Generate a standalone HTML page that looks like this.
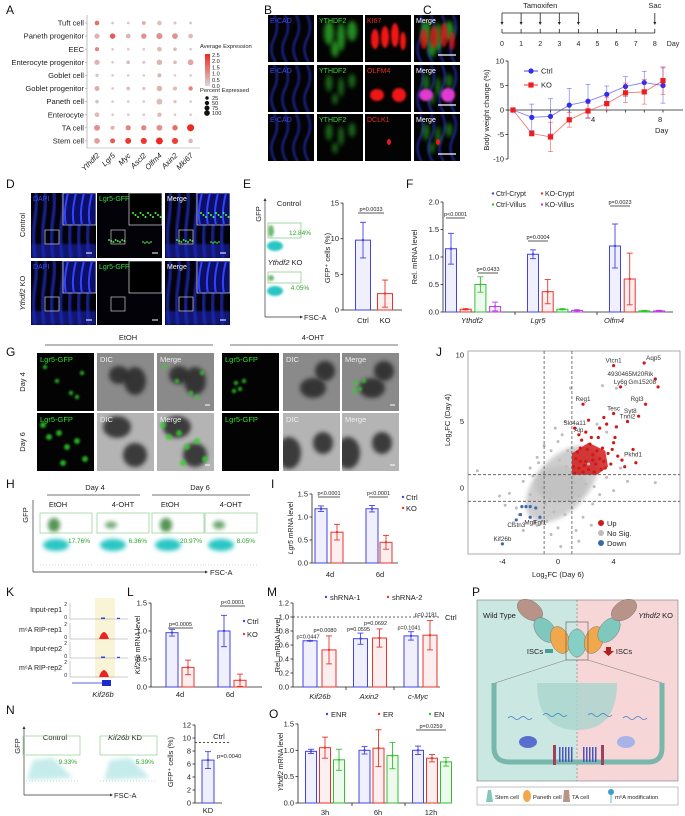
<!DOCTYPE html>
<html><head><meta charset="utf-8">
<style>
body{margin:0;background:#fff}
svg{display:block;font-family:"Liberation Sans",Arial,sans-serif}
</style></head>
<body>
<svg id="fig" width="685" height="816" viewBox="0 0 685 816" xmlns="http://www.w3.org/2000/svg">
<defs>
<filter id="bl" x="-50%" y="-50%" width="200%" height="200%"><feGaussianBlur stdDeviation="1"/></filter>
<filter id="bl2" x="-50%" y="-50%" width="200%" height="200%"><feGaussianBlur stdDeviation="2"/></filter>
<filter id="bl4" x="-50%" y="-50%" width="200%" height="200%"><feGaussianBlur stdDeviation="4"/></filter>
<linearGradient id="cbar" x1="0" y1="1" x2="0" y2="0"><stop offset="0" stop-color="#d8d8d8"/><stop offset="1" stop-color="#ee2a1e"/></linearGradient>
</defs>
<g font-size="12" fill="#111">
<text x="6" y="14">A</text><text x="264" y="14">B</text><text x="423" y="14">C</text>
<text x="6" y="188">D</text><text x="243" y="188">E</text><text x="406" y="188">F</text>
<text x="6" y="356">G</text><text x="436" y="356">J</text>
<text x="6" y="488">H</text><text x="271" y="488">I</text>
<text x="6" y="596">K</text><text x="127" y="596">L</text><text x="267" y="596">M</text><text x="472" y="596">P</text>
<text x="6" y="714">N</text><text x="269" y="718">O</text>
</g>
</svg>
<script>
const NS='http://www.w3.org/2000/svg';
const fig=document.getElementById('fig');
function mk(tag,attrs,parent){const e=document.createElementNS(NS,tag);for(const k in attrs)e.setAttribute(k,attrs[k]);(parent||fig).appendChild(e);return e;}
function tx(x,y,s,attrs,parent){const e=mk('text',Object.assign({x:x,y:y,'font-size':7,fill:'#222'},attrs||{}),parent);e.textContent=s;return e;}

/* ================= DATA ================= */
const aCells=['Tuft cell','Paneth progenitor','EEC','Enterocyte progenitor','Goblet cell','Goblet progenitor','Paneth cell','Enterocyte','TA cell','Stem cell'];
const aGenes=['Ythdf2','Lgr5','Myc','Ascl2','Olfm4','Axin2','Mki67'];
const aExpr=[[1.5,0.3,0.3,0.7,0.3,0.3,0.3],[0.5,1.8,0.5,1.0,1.0,1.0,0.4],[1.2,0.2,0.2,0.2,0.4,0.4,0.2],[0.5,0.2,0.4,0.2,0.5,0.4,0.7],[0.3,0.2,0.2,0.2,0.5,0.2,0.2],[0.6,0.2,0.4,0.3,0.5,0.4,1.2],[0.3,0.2,0.2,0.2,0.4,0.3,0.2],[0.4,0.2,0.2,0.2,0.4,0.2,0.2],[1.0,0.5,1.2,1.2,1.0,1.5,2.5],[0.8,1.8,2.3,2.3,2.5,2.2,0.4]];
const aPct=[[30,5,5,15,30,8,5],[40,45,30,45,60,50,30],[20,5,5,5,30,15,5],[40,5,15,10,45,15,50],[10,5,5,5,20,5,5],[35,5,15,10,45,20,25],[15,5,5,5,55,10,5],[30,5,5,5,25,5,5],[55,20,40,40,55,45,85],[50,35,55,60,80,60,30]];

const cDays=[0,1,2,3,4,5,6,7,8];
const cCtrl=[0,-1.5,-1.3,1.0,1.8,3.2,4.8,5.6,5.0];
const cCtrlErr=[0,2.7,3.6,3.4,3.4,1.7,2.0,2.3,3.6];
const cKO=[0,-4.8,-5.5,-2.0,-0.2,1.3,3.5,3.7,6.0];
const cKOErr=[0,0.5,3.0,1.5,1.5,1.3,2.0,2.5,2.8];

const eCats=['Ctrl','KO'];
const eVals=[9.8,2.3];
const eErr=[2.5,1.9];

const fGroups=['Ythdf2','Lgr5','Olfm4'];
const fSeries=['Ctrl-Crypt','KO-Crypt','Ctrl-Villus','KO-Villus'];
const fVals=[[1.15,1.05,1.2],[0.05,0.37,0.6],[0.5,0.05,0.02],[0.1,0.03,0.02]];
const fErr=[[0.28,0.08,0.4],[0.01,0.22,0.47],[0.14,0.01,0.01],[0.08,0.01,0.01]];

const iGroups=['4d','6d'];
const iCtrl=[1.18,1.18];const iCtrlErr=[0.06,0.07];
const iKO=[0.67,0.45];const iKOErr=[0.17,0.15];

const jGrayX=[-5.8,-3.5,-3,-2.5,-2,-2,-1.5,-1.2,-1,-0.8,-0.5,-0.3,0,0,0.3,0.5,0.7,0.9,1,1.2,1.5,2,2.5,3,3.5,4,4.5,5,7,-1.5,-0.5,0.2,1.8,2.4,1.5,-2.5,3.2,4.2,0.5,-0.2,-3.8,-4.2,2.8,3.5,1,-1,-2.8,2.2,0.6,-0.6,-1.8,-3.2,1.3,0.1,-0.9,2.6,-1.4,0.8];
const jGrayY=[1.3,-0.4,-1.5,0.5,-0.5,1.5,2.3,0,3.2,-2.5,2.8,-1.8,3.5,-3,4,-2,2.8,7.5,-1.5,0.4,-0.6,0.3,-1.2,-0.5,0.8,-0.2,1.5,0.5,0.4,-2.8,-3.5,-4.4,-2.2,-2.8,-4,-3.2,7.7,7.5,5,4.5,-1.3,-0.6,4.8,4.2,3,1,-2,1.8,1.6,-0.8,0.9,-2.6,-3.2,2.1,-1.2,0.1,1.9,-0.9];
const jUpX=[1.2,1.5,1.8,2,2.2,2.5,2.7,3,3.2,3.4,1.3,1.6,2.3,2.9,3.6,4,4.3,1.1,1.4,2.1,2.6,3.3,3.8,2.4,2,3,3.5,4.2,4.1,1.9,2.8,3.9,4.6,4.8,5.6,5.4,3.3,2.2,1.8,1.2,4,5,5.8,6.3,7.2,7,6.2,4,4.5,1.6,2.5,1.7,3.1,1.5];
const jUpY=[1.1,1.5,1.2,2,1.4,2.5,1.8,2.2,3,1.5,2.2,3,3.3,3.8,2.6,3.4,2.4,1.6,2.7,2.9,1.2,2,1.8,3.8,4.2,4.5,4.8,4.6,3.8,1.7,2.8,2.9,2.1,1.6,1.9,2.9,5.3,5.1,6.3,4.5,5.6,5,5.4,6.3,7.6,8.2,9.4,9.2,7.6,2,2.1,3.6,1.4,4];
const jDownX=[-4,-3,-2.6,-2.3,-2,-1.6,-2,-2.7,-1.3];
const jDownY=[-4.2,-2.4,-1.4,-1.4,-1.4,-1.5,-2.2,-2,-2.2];
const jLabNames=['Vtcn1','Aqp5','4930465M20Rik','Gm15208','Ly6g','Rgl3','Syt8','Tesc','Reg1','Slc4a11','Tnni2','Alp','Pkhd1','Kif26b','Clstn3','Mgll','Fgf1'];
const jLabX=[4,6.2,7,7.2,4.5,6.3,5.8,4,1.8,1.2,5,1.5,5.4,-4,-3,-2,-1.3];
const jLabY=[9.2,9.4,8.2,7.6,7.6,6.3,5.4,5.6,6.3,4.5,5,4,2.9,-4.2,-2.4,-2.2,-2.2];

const lGroups=['4d','6d'];
const lCtrl=[0.97,1.0];const lCtrlErr=[0.06,0.28];
const lKO=[0.35,0.12];const lKOErr=[0.13,0.11];

const mGroups=['Kif26b','Axin2','c-Myc'];
const mSh1=[0.66,0.69,0.73];const mSh1Err=[0.005,0.08,0.06];
const mSh2=[0.53,0.70,0.74];const mSh2Err=[0.2,0.13,0.21];
const mPvals1=['p=0.0447','p=0.0595','p=0.1041'];
const mPvals2=['p=0.0080','p=0.0692','p=0.1181'];

const nVal=[6.6];const nErr=[1.3];const nCtrlLevel=9.3;

const oGroups=['3h','6h','12h'];
const oENR=[0.98,1.0,1.0];const oENRErr=[0.04,0.07,0.08];
const oER=[1.05,1.04,0.85];const oERErr=[0.2,0.35,0.07];
const oEN=[0.82,0.9,0.78];const oENErr=[0.2,0.25,0.08];

const BLUE='#4343e6',RED='#e8362e',GREEN='#32c232',PURP='#b83ee0';

/* ============ generic helpers ============ */
function yAxis(x,y0,k,ticks,fmt,fs){
  mk('line',{x1:x,y1:y0,x2:x,y2:y0-k*ticks[ticks.length-1],stroke:'#222','stroke-width':0.8});
  ticks.forEach(t=>{const y=y0-k*t;
    mk('line',{x1:x-2.5,y1:y,x2:x,y2:y,stroke:'#222','stroke-width':0.8});
    tx(x-4,y+2.5,fmt(t),{'text-anchor':'end','font-size':fs||7.5});});
}
function bar(cx,w,y0,k,v,err,color,name){
  const r=mk('rect',{x:cx-w/2,y:y0-k*v,width:w,height:k*v,fill:color,'fill-opacity':0.08,stroke:color,'stroke-width':1});
  
  
  const yt=y0-k*(v+err),yb=y0-k*Math.max(0,v-err);
  mk('line',{x1:cx,y1:yt,x2:cx,y2:yb,stroke:color,'stroke-width':0.9});
  mk('line',{x1:cx-3,y1:yt,x2:cx+3,y2:yt,stroke:color,'stroke-width':0.9});
  mk('line',{x1:cx-3,y1:yb,x2:cx+3,y2:yb,stroke:color,'stroke-width':0.9});
  mk('circle',{cx:cx,cy:y0-k*v,r:1.2,fill:color});
  return r;
}
function pline(x1,x2,y,label,fs){mk('line',{x1:x1,y1:y,x2:x2,y2:y,stroke:'#222','stroke-width':0.8});tx((x1+x2)/2,y-2,label,{'text-anchor':'middle','font-size':fs||5.5});}
function vtitle(x,y,s,fs){const t=tx(x,y,s,{'text-anchor':'middle','font-size':fs||7.5,transform:'rotate(-90 '+x+' '+y+')'});return t;}
function box(x,y,w,h,fill,name){const s=mk('svg',{x:x,y:y,width:w,height:h,overflow:'hidden'});mk('rect',{width:w,height:h,fill:fill},s);return s;}

/* ================= A: dot plot ================= */
(function(){
  const ax=87,top=15,bot=148;
  mk('line',{x1:ax,y1:top,x2:ax,y2:bot,stroke:'#999','stroke-width':0.6});
  mk('line',{x1:ax,y1:bot,x2:200,y2:bot,stroke:'#999','stroke-width':0.6});
  aCells.forEach((c,i)=>{const y=23+i*13.1;
    const t=tx(84,y+2.6,c,{'text-anchor':'end','font-size':7.6});
    
    mk('line',{x1:ax-2,y1:y,x2:ax,y2:y,stroke:'#999','stroke-width':0.6});
    aGenes.forEach((g,j)=>{const x=97+j*15.6;const e=aExpr[i][j]/2.5;
      const col='rgb('+Math.round(216+e*(238-216))+','+Math.round(216-e*(216-42))+','+Math.round(216-e*(216-30))+')';
      const d=mk('circle',{cx:x,cy:y,r:0.6+3.2*Math.sqrt(aPct[i][j]/100),fill:col});
      
      
    });
  });
  aGenes.forEach((g,j)=>{const x=97+j*15.6;
    const t=tx(x+3,156,g,{'text-anchor':'end','font-size':7.6,'font-style':'italic',transform:'rotate(-45 '+(x+3)+' 156)'});
    });
  tx(200,48,'Average Expression',{'font-size':5.8});
  const cb=mk('rect',{x:205,y:54,width:5,height:32,fill:'url(#cbar)'});
  
  ['2.5','2.0','1.5','1.0','0.5','0.0'].forEach((s,i)=>tx(212,57+i*6.2,s,{'font-size':5.6}));
  tx(200,92,'Percent Expressed',{'font-size':5.8});
  [25,50,75,100].forEach((p,i)=>{mk('circle',{cx:207,cy:98+i*5,r:0.6+3.2*Math.sqrt(p/100)*0.7,fill:'#111'});tx(212,100+i*5,String(p),{'font-size':5.6});});
})();

/* ================= B: images ================= */
(function(){
  const cols=[268,317,365,414],rows=[15,65,114],w=46,h=47;
  const labs=[['E-CAD','YTHDF2','KI67','Merge'],['E-CAD','YTHDF2','OLFM4','Merge'],['E-CAD','YTHDF2','DCLK1','Merge']];
  rows.forEach((y,r)=>cols.forEach((x,c)=>{
    const s=box(x,y,w,h,'#030303','b-image-r'+r+'c'+c);
    if(c===0||c===3){for(let k=0;k<4;k++)mk('path',{d:'M'+(6+k*11)+' 0 q6 12 0 24 t2 24',stroke:'#2a36e0','stroke-width':1.4,fill:'none',filter:'url(#bl)'},s);}
    if(c===1||c===3){[[12,18,5,12],[24,22,4,14],[35,16,5,10],[18,34,4,8]].forEach(b=>mk('ellipse',{cx:b[0],cy:b[1],rx:b[2]*(r===0?1:0.7),ry:b[3]*(r===0?1:0.7),fill:'#2fb82a',opacity:r===0?0.75:0.55,filter:'url(#bl2)'},s));}
    if(c===2||c===3){ if(r===0)[[10,24,4,10],[20,22,4,11],[30,20,4,12],[38,26,3,9]].forEach(b=>mk('ellipse',{cx:b[0],cy:b[1],rx:b[2],ry:b[3],fill:'#f01818',filter:'url(#bl)',opacity:c===3?0.7:1},s));
      else if(r===1)[[12,30,7,6],[34,30,7,7]].forEach(b=>mk('ellipse',{cx:b[0],cy:b[1],rx:b[2],ry:b[3],fill:c===3?'#e03ad0':'#f01818',filter:'url(#bl)'},s));
      else mk('ellipse',{cx:24,cy:28,rx:2,ry:3,fill:'#f01818'},s);}
    const cl=[ '#3c48f0','#3fd83f','#f02a20','#ffffff'][c];
    tx(2,8,labs[r][c],{'font-size':7,fill:cl},s);
    if(c===3)mk('line',{x1:24,y1:40,x2:42,y2:40,stroke:'#fff','stroke-width':1.2},s);
  }));
})();

/* ================= C: timeline + line chart ================= */
(function(){
  const x0=502,st=19.1,by=33;
  mk('line',{x1:x0,y1:by,x2:x0+8*st,y2:by,stroke:'#222','stroke-width':0.8});
  cDays.forEach(d=>{const x=x0+d*st;mk('line',{x1:x,y1:by-4,x2:x,y2:by,stroke:'#222','stroke-width':0.8});tx(x,46,String(d),{'text-anchor':'middle','font-size':7});});
  tx(673,46,'Day',{'font-size':7,'text-anchor':'middle'});
  mk('line',{x1:x0,y1:13,x2:x0+4*st,y2:13,stroke:'#222','stroke-width':0.8});
  for(let d=0;d<=4;d++){mk('line',{x1:x0+d*st,y1:13,x2:x0+d*st,y2:23,stroke:'#222','stroke-width':0.8});mk('path',{d:'M'+(x0+d*st-1.5)+' 22 l1.5 3 l1.5 -3z',fill:'#222'});}
  mk('line',{x1:x0+8*st,y1:13,x2:x0+8*st,y2:23,stroke:'#222','stroke-width':0.8});mk('path',{d:'M'+(x0+8*st-1.5)+' 22 l1.5 3 l1.5 -3z',fill:'#222'});
  tx(x0+2*st,8,'Tamoxifen',{'text-anchor':'middle','font-size':7.5});
  tx(x0+8*st,8,'Sac',{'text-anchor':'middle','font-size':7.5});
  const ax=508,y0=110,k=4.9,xs=d=>513+d*18.75,ys=v=>y0-v*k;
  yAxis(ax,y0,k,[0,5,10],t=>String(t));
  mk('line',{x1:ax,y1:y0,x2:ax,y2:ys(-10),stroke:'#222','stroke-width':0.8});
  [-5,-10].forEach(t=>{mk('line',{x1:ax-2.5,y1:ys(t),x2:ax,y2:ys(t),stroke:'#222','stroke-width':0.8});tx(ax-4,ys(t)+2.5,String(t),{'text-anchor':'end','font-size':7.5});});
  mk('line',{x1:ax,y1:y0,x2:683,y2:y0,stroke:'#222','stroke-width':0.8});
  cDays.forEach(d=>mk('line',{x1:xs(d),y1:y0,x2:xs(d),y2:y0+2.5,stroke:'#222','stroke-width':0.8}));
  tx(xs(4)+3,122,'4',{'font-size':7.5});tx(xs(8)-5,122,'8',{'font-size':7.5});tx(xs(8)-8,133,'Day',{'font-size':7.5});
  vtitle(489,110,'Body weight change (%)',7.5);
  function series(vals,errs,col,sym,nm){
    let d='';vals.forEach((v,i)=>{d+=(i?'L':'M')+xs(cDays[i])+' '+ys(v);});
    const p=mk('path',{d:d,stroke:col,'stroke-width':0.9,fill:'none','stroke-opacity':0.6});
    
    vals.forEach((v,i)=>{const x=xs(cDays[i]);
      mk('line',{x1:x,y1:ys(v+errs[i]),x2:x,y2:ys(v-errs[i]),stroke:col,'stroke-width':0.7,'stroke-opacity':0.6});
      mk('line',{x1:x-2.5,y1:ys(v+errs[i]),x2:x+2.5,y2:ys(v+errs[i]),stroke:col,'stroke-width':0.7,'stroke-opacity':0.6});
      mk('line',{x1:x-2.5,y1:ys(v-errs[i]),x2:x+2.5,y2:ys(v-errs[i]),stroke:col,'stroke-width':0.7,'stroke-opacity':0.6});
      const m=sym==='c'?mk('circle',{cx:x,cy:ys(v),r:2.6,fill:col}):mk('rect',{x:x-2.6,y:ys(v)-2.6,width:5.2,height:5.2,fill:col});
      
      
    });
  }
  series(cCtrl,cCtrlErr,'#2e2ef0','c','ctrl');
  series(cKO,cKOErr,'#ee1c1c','s','ko');
  mk('line',{x1:524,y1:71,x2:538,y2:71,stroke:'#2e2ef0','stroke-width':0.9});mk('circle',{cx:531,cy:71,r:2.6,fill:'#2e2ef0'});tx(541,73.5,'Ctrl',{'font-size':7.5});
  mk('line',{x1:524,y1:85,x2:538,y2:85,stroke:'#ee1c1c','stroke-width':0.9});mk('rect',{x:528.4,y:82.4,width:5.2,height:5.2,fill:'#ee1c1c'});tx(541,87.5,'KO',{'font-size':7.5});
})();

/* ================= D: images ================= */
(function(){
  const cols=[31,97,165],rows=[[193,258],[261,325]],w=65;
  const labs=['DAPI','Lgr5-GFP','Merge'];
  rows.forEach((rr,r)=>cols.forEach((x,c)=>{
    const h=rr[1]-rr[0];const s=box(x,rr[0],w,h,'#020208','d-image-r'+r+'c'+c);
    if(c!==1){for(let k=0;k<7;k++)mk('path',{d:'M'+(4+k*9)+' '+h+' q-3 -20 0 -40 t0 -30',stroke:'#2633d8','stroke-width':2.2,fill:'none',filter:'url(#bl)'},s);
      mk('rect',{x:0,y:h-14,width:w,height:14,fill:'#1d28b8',opacity:0.6,filter:'url(#bl)'},s);}
    if(r===0&&c>0){for(let k=0;k<8;k++)mk('circle',{cx:12+k*2.2,cy:h-18+(k%3),r:1,fill:'#3de03a'},s);for(let k=0;k<5;k++)mk('circle',{cx:46+k*2,cy:h-16+(k%2),r:0.9,fill:'#3de03a'},s);}
    mk('rect',{x:w-33,y:0,width:33,height:32,fill:c===1?'#000':'#0b0f66',stroke:'#ddd','stroke-width':0.7},s);
    if(c!==1)for(let k=0;k<4;k++)mk('path',{d:'M'+(w-30+k*8)+' 32 q-3 -12 2 -32',stroke:'#3342ff','stroke-width':2,fill:'none'},s);
    if(r===0&&c>0)for(let k=0;k<12;k++)mk('circle',{cx:w-29+k*2.5,cy:20+(k%3)*2,r:1,fill:'#43ff3c'},s);
    mk('rect',{x:14,y:h-28,width:14,height:14,fill:'none',stroke:'#ccc','stroke-width':0.7},s);
    mk('line',{x1:w-10,y1:h-5,x2:w-4,y2:h-5,stroke:'#fff','stroke-width':1},s);
    tx(2,8,labs[c],{'font-size':7,fill:['#3a48f5','#3fdd3f','#fff'][c]},s);
  }));
  vtitle(25,225,'Control',7.5);
  const t=tx(25,293,'',{'text-anchor':'middle','font-size':7.5,transform:'rotate(-90 25 293)'});
  t.innerHTML='<tspan font-style="italic">Ythdf2</tspan> KO';
})();

/* ================= E ================= */
(function(){
  mk('line',{x1:265,y1:200,x2:265,y2:317,stroke:'#333','stroke-width':0.7});
  mk('line',{x1:265,y1:317,x2:300,y2:317,stroke:'#333','stroke-width':0.7});
  mk('path',{d:'M263.5 201 l1.5 -3 l1.5 3z',fill:'#333'});mk('path',{d:'M300 315.5 l3 1.5 l-3 1.5z',fill:'#333'});
  tx(304,320,'FSC-A',{'font-size':7.5});vtitle(261,214,'GFP',7.5);
  [[206,223,238,'Control','12.84%'],[260,272,283,'','4.05%']].forEach((p,i)=>{
    tx(289,p[0],p[3],{'text-anchor':'middle','font-size':7.5});
    mk('ellipse',{cx:275,cy:p[2]+8,rx:8,ry:5,fill:'#2cc6c4',filter:'url(#bl)'});
    mk('ellipse',{cx:271,cy:p[1]+(i?6:8),rx:3,ry:i?3:6,fill:'#3a9a3a',opacity:0.7,filter:'url(#bl)'});
    const g=mk('rect',{x:268,y:p[1],width:33,height:p[2]-p[1],fill:'none',stroke:'#8fd08f','stroke-width':0.8});
    
    tx(300,p[2]-3+(i?10:0),p[4],{'font-size':6.5,fill:'#2aa52a','text-anchor':'middle'});
  });
  const t=tx(285,265,'',{'text-anchor':'middle','font-size':7.5});t.innerHTML='<tspan font-style="italic">Ythdf2</tspan> KO';
  const y0=310,k=7.13,ax=343;
  yAxis(ax,y0,k,[0,5,10,15],t=>String(t));
  mk('line',{x1:ax,y1:y0,x2:402,y2:y0,stroke:'#222','stroke-width':0.8});
  const cx=[363,385],cols=[BLUE,RED];
  eVals.forEach((v,i)=>{bar(cx[i],15,y0,k,v,eErr[i],cols[i],'e-bar-'+eCats[i].toLowerCase());tx(cx[i],323,eCats[i],{'text-anchor':'middle','font-size':7.5});});
  pline(358,384,213,'p=0.0033');
  vtitle(330,258,'GFP⁺ cells (%)',7.5);
})();

/* ================= F ================= */
(function(){
  const ax=443,y0=312,k=55;
  yAxis(ax,y0,k,[0,0.5,1,1.5,2],t=>t.toFixed(1));
  mk('line',{x1:ax,y1:y0,x2:673,y2:y0,stroke:'#222','stroke-width':0.8});
  [515,597].forEach(x=>mk('line',{x1:x,y1:y0,x2:x,y2:y0+3,stroke:'#222','stroke-width':0.8}));
  const cols=[BLUE,RED,GREEN,PURP];
  fGroups.forEach((g,gi)=>{
    fSeries.forEach((s,si)=>{bar(451+gi*82+si*14.7,11,y0,k,fVals[si][gi],fErr[si][gi],cols[si],'f-bar-'+g.toLowerCase()+'-'+s.toLowerCase());});
    tx(462+gi*76+ (gi===0?10:0),323,g,{'text-anchor':'middle','font-size':7.5,'font-style':'italic'});
  });
  pline(446,465,218,'p<0.0001');pline(478,498,273,'p=0.0433');pline(528,548,241,'p=0.0004');pline(610,630,206,'p=0.0023');
  fSeries.forEach((s,i)=>{const x=i%2?542:493,y=i<2?196:207;mk('circle',{cx:x,cy:y-2.5,r:1.2,fill:cols[i]});tx(x+3,y,s,{'font-size':7});});
  vtitle(417,257,'Rel. mRNA level',7.5);
})();

/* ================= G ================= */
(function(){
  tx(128,340,'EtOH',{'text-anchor':'middle','font-size':7.5});tx(313,340,'4-OHT',{'text-anchor':'middle','font-size':7.5});
  mk('line',{x1:45,y1:345,x2:213,y2:345,stroke:'#444','stroke-width':0.8});mk('line',{x1:230,y1:345,x2:398,y2:345,stroke:'#444','stroke-width':0.8});
  const cols=[37,97,157,222,283,342],rows=[353,413],w=57,h=58;
  const labs=['Lgr5-GFP','DIC','Merge'];
  rows.forEach((y,r)=>cols.forEach((x,c)=>{
    const kind=c%3,treated=c>=3;
    const bg=kind===0?'#030303':(r===0?'#8a8a8a':'#b4b4b4');
    const s=box(x,y,w,h,bg,'g-image-r'+r+'c'+c);
    if(kind>0){
      const blobs=r===0?(treated?[[30,35,13,10],[42,18,10,10]]:[[22,22,10,9],[38,28,11,14]]):(treated?[[6,40,12,16],[40,30,10,11]]:[[20,14,14,11],[38,42,12,12]]);
      blobs.forEach(b=>mk('ellipse',{cx:b[0],cy:b[1],rx:b[2],ry:b[3],fill:'#262626',opacity:0.85,filter:'url(#bl2)'},s));
    }
    if(kind!==1){const gp=r===0?(treated?[[14,30],[18,36],[22,28],[12,38]]:[[8,14],[20,28],[34,40],[40,44],[45,20]]):(treated?[]:[[6,12],[12,24],[22,20],[30,34],[40,28],[48,46],[26,50]]);
      gp.forEach(p=>mk('circle',{cx:p[0],cy:p[1],r:r===1?3:2.2,fill:'#2fd42a',opacity:0.8,filter:'url(#bl)'},s));}
    tx(3,9,labs[kind],{'font-size':7.5,fill:kind===0?'#2fe02a':'#eee'},s);
    if(kind===2)mk('line',{x1:w-9,y1:h-6,x2:w-4,y2:h-6,stroke:'#fff','stroke-width':1},s);
  }));
  vtitle(25,382,'Day 4',7.5);vtitle(25,442,'Day 6',7.5);
})();

/* ================= H ================= */
(function(){
  tx(95,490,'Day 4',{'text-anchor':'middle','font-size':7.5});tx(200,490,'Day 6',{'text-anchor':'middle','font-size':7.5});
  mk('line',{x1:47,y1:495,x2:140,y2:495,stroke:'#444','stroke-width':0.8});mk('line',{x1:152,y1:495,x2:250,y2:495,stroke:'#444','stroke-width':0.8});
  const xs=[40,97,152,205],labs=['EtOH','4-OHT','EtOH','4-OHT'],pct=['17.76%','6.36%','20.97%','8.05%'],dens=[1,0.5,1,0.6];
  xs.forEach((x,i)=>{
    tx(x+(i%2?26:18),507,labs[i],{'text-anchor':'middle','font-size':7.5});
    mk('ellipse',{cx:x+16,cy:545,rx:13,ry:6,fill:'#2cc6c4',filter:'url(#bl2)'});
    mk('ellipse',{cx:x+14,cy:525,rx:6,ry:7*dens[i],fill:'#2a7a2a',opacity:0.5+0.3*dens[i],filter:'url(#bl2)'});
    const g=mk('rect',{x:x,y:513,width:52,height:20,fill:'none',stroke:'#9fd49f','stroke-width':0.8});
    
    tx(x+50,543,pct[i],{'text-anchor':'end','font-size':6.5,fill:'#2aa52a'});
    mk('line',{x1:x,y1:565,x2:x+52,y2:565,stroke:'#aaa','stroke-width':0.6,'stroke-dasharray':'1 2'});
  });
  mk('line',{x1:33,y1:500,x2:33,y2:572,stroke:'#333','stroke-width':0.7});
  mk('line',{x1:33,y1:572,x2:205,y2:572,stroke:'#333','stroke-width':0.7});
  mk('path',{d:'M205 570.5 l3 1.5 l-3 1.5z',fill:'#333'});
  tx(210,575,'FSC-A',{'font-size':7.5});vtitle(28,515,'GFP',7.5);
})();

/* ================= I ================= */
(function(){
  const ax=312,y0=563,k=46;
  yAxis(ax,y0,k,[0,0.5,1,1.5],t=>t.toFixed(1));
  mk('line',{x1:ax,y1:y0,x2:398,y2:y0,stroke:'#222','stroke-width':0.8});
  iGroups.forEach((g,gi)=>{
    bar(321+gi*51,12,y0,k,iCtrl[gi],iCtrlErr[gi],BLUE,'i-bar-ctrl-'+g);
    bar(337+gi*49,12,y0,k,iKO[gi],iKOErr[gi],RED,'i-bar-ko-'+g);
    tx(330+gi*50,577,g,{'text-anchor':'middle','font-size':7.5});
  });
  pline(318,340,497,'p<0.0001');pline(369,388,497,'p<0.0001');
  mk('circle',{cx:403,cy:497,r:1.2,fill:BLUE});tx(406,500,'Ctrl',{'font-size':7.5});
  mk('circle',{cx:403,cy:508,r:1.2,fill:RED});tx(406,511,'KO',{'font-size':7.5});
  const t=tx(293,528,'',{'text-anchor':'middle','font-size':7,transform:'rotate(-90 293 528)'});t.innerHTML='<tspan font-style="italic">Lgr5</tspan> mRNA level';
})();

/* ================= J: volcano ================= */
(function(){
  const xs=v=>558+v*13.9,ys=v=>488-v*13.3;
  const fr=mk('rect',{x:468,y:351,width:212,height:203,fill:'none',stroke:'#888','stroke-width':0.7});
  
  mk('ellipse',{cx:xs(0.3),cy:ys(0.3),rx:46,ry:26,fill:'#cdcdcd',filter:'url(#bl2)',transform:'rotate(-48 '+xs(0.3)+' '+ys(0.3)+')'});
  mk('ellipse',{cx:xs(0.2),cy:ys(0.3),rx:26,ry:18,fill:'#c2c2c2',filter:'url(#bl2)'});
  mk('path',{d:'M'+xs(1)+' '+ys(1)+' L'+xs(1)+' '+ys(2.6)+' L'+xs(2.2)+' '+ys(3.4)+' L'+xs(3.4)+' '+ys(2.8)+' L'+xs(3.6)+' '+ys(1.6)+' L'+xs(2.8)+' '+ys(1)+'Z',fill:'#d11c1c',opacity:0.85},);
  jGrayX.forEach((x,i)=>{const c=mk('circle',{cx:xs(x),cy:ys(jGrayY[i]),r:1.5,fill:'#bdbdbd'});});
  jUpX.forEach((x,i)=>{const c=mk('circle',{cx:xs(x),cy:ys(jUpY[i]),r:1.6,fill:'#d11818'});});
  jDownX.forEach((x,i)=>{const c=mk('circle',{cx:xs(x),cy:ys(jDownY[i]),r:1.6,fill:'#3c68b0'});});
  [-1,1].forEach(v=>{mk('line',{x1:xs(v),y1:351,x2:xs(v),y2:554,stroke:'#555','stroke-width':0.8,'stroke-dasharray':'3 2'});
    mk('line',{x1:468,y1:ys(v),x2:680,y2:ys(v),stroke:'#555','stroke-width':0.8,'stroke-dasharray':'3 2'});});
  jLabNames.forEach((n,i)=>{
    let anchor='middle',dx=0;
    if(['4930465M20Rik','Gm15208','Rgl3','Syt8'].includes(n)){anchor='end';dx=-2;}
    if(n==='Aqp5'){anchor='start';dx=2;}
    const below=['Pkhd1','Clstn3','Mgll','Fgf1'].includes(n);
    const t=tx(xs(jLabX[i])+dx,ys(jLabY[i])+(below?7:-3),n,{'text-anchor':anchor,'font-size':6.3,fill:'#333'});
    });
  [-4,0,4].forEach(v=>tx(xs(v),564,String(v),{'text-anchor':'middle','font-size':7.5}));
  [0,5,10].forEach(v=>tx(464,ys(v)+2.5,String(v),{'text-anchor':'end','font-size':7.5}));
  const t1=tx(558,577,'',{'text-anchor':'middle','font-size':7.5});t1.innerHTML='Log<tspan font-size="5" dy="2">2</tspan><tspan dy="-2">FC (Day 6)</tspan>';
  const t2=tx(450,420,'',{'text-anchor':'middle','font-size':7.5,transform:'rotate(-90 450 420)'});t2.innerHTML='Log<tspan font-size="5" dy="2">2</tspan><tspan dy="-2">FC (Day 4)</tspan>';
  [['Up','#d11818',523],['No Sig.','#bdbdbd',533],['Down','#3c68b0',543]].forEach(l=>{mk('circle',{cx:601,cy:l[2],r:3,fill:l[1]});tx(607,l[2]+3,l[0],{'font-size':7.5});});
})();

/* ================= K ================= */
(function(){
  const hl=mk('rect',{x:95,y:598,width:20,height:80,fill:'#faf4d6'});
  const names=['Input-rep1','m⁶A RIP-rep1','Input-rep2','m⁶A RIP-rep2'],base=[619,639,658,677];
  names.forEach((n,i)=>{const t=tx(62,base[i]-7,n,{'text-anchor':'end','font-size':7});
    mk('line',{x1:70,y1:base[i],x2:128,y2:base[i],stroke:'#999','stroke-width':0.5});
    mk('line',{x1:70,y1:base[i]-16,x2:70,y2:base[i],stroke:'#999','stroke-width':0.5});
    tx(67,base[i]-13,'2',{'font-size':5,'text-anchor':'end'});tx(67,base[i],'0',{'font-size':5,'text-anchor':'end'});
    if(i%2)mk('path',{d:'M99 '+base[i]+' q5 -14 10 0z',fill:'#ee2222'});else{mk('rect',{x:101,y:base[i]-1.5,width:4,height:1.5,fill:'#3344dd'});mk('rect',{x:117,y:base[i]-1.2,width:3,height:1.2,fill:'#3344dd'});}
  });
  mk('line',{x1:72,y1:683,x2:110,y2:683,stroke:'#2233cc','stroke-width':0.8});
  mk('rect',{x:102,y:680,width:9,height:6,fill:'#1b2bd0'});
  tx(103,697,'Kif26b',{'text-anchor':'middle','font-size':7.5,'font-style':'italic'});
})();

/* ================= L ================= */
(function(){
  const ax=151,y0=687,k=56;
  yAxis(ax,y0,k,[0,0.5,1,1.5],t=>t.toFixed(1));
  mk('line',{x1:ax,y1:y0,x2:262,y2:y0,stroke:'#222','stroke-width':0.8});
  lGroups.forEach((g,gi)=>{
    bar(172+gi*52,12,y0,k,lCtrl[gi],lCtrlErr[gi],BLUE,'l-bar-ctrl-'+g);
    bar(188+gi*52,12,y0,k,lKO[gi],lKOErr[gi],RED,'l-bar-ko-'+g);
    tx(180+gi*50,697,g,{'text-anchor':'middle','font-size':7.5});
  });
  pline(168,193,628,'p=0.0005');pline(220,245,606,'p<0.0001');
  mk('circle',{cx:244,cy:621,r:1.2,fill:BLUE});tx(247,624,'Ctrl',{'font-size':7.5});
  mk('circle',{cx:244,cy:634,r:1.2,fill:RED});tx(247,637,'KO',{'font-size':7.5});
  const t=tx(140,645,'',{'text-anchor':'middle','font-size':7,transform:'rotate(-90 140 645)'});t.innerHTML='<tspan font-style="italic">Kif26b</tspan> mRNA level';
})();

/* ================= M ================= */
(function(){
  const ax=293,y0=687,k=70;
  yAxis(ax,y0,k,[0,0.2,0.4,0.6,0.8,1.0,1.2],t=>t.toFixed(1));
  mk('line',{x1:ax,y1:y0,x2:440,y2:y0,stroke:'#222','stroke-width':0.8});
  [346,394].forEach(x=>mk('line',{x1:x,y1:y0,x2:x,y2:y0+3,stroke:'#222','stroke-width':0.8}));
  mk('line',{x1:ax,y1:y0-k,x2:440,y2:y0-k,stroke:'#333','stroke-width':0.8,'stroke-dasharray':'2 2'});
  tx(445,620,'Ctrl',{'font-size':7.5});
  mGroups.forEach((g,gi)=>{
    const c1=310+gi*50.5,c2=329+gi*50.5;
    bar(c1,14,y0,k,mSh1[gi],mSh1Err[gi],BLUE,'m-bar-shrna1-'+g.toLowerCase());
    bar(c2,14,y0,k,mSh2[gi],mSh2Err[gi],RED,'m-bar-shrna2-'+g.toLowerCase());
    tx(c1-2,y0-k*(mSh1[gi]+mSh1Err[gi])-2,mPvals1[gi],{'text-anchor':'middle','font-size':5.5});
    tx(c2-4,y0-k*(mSh2[gi]+mSh2Err[gi])-4,mPvals2[gi],{'text-anchor':'middle','font-size':5.5});
    tx(320+gi*49,699,g,{'text-anchor':'middle','font-size':7.5,'font-style':'italic'});
  });
  mk('circle',{cx:326,cy:597,r:1.2,fill:BLUE});tx(330,600,'shRNA-1',{'font-size':7.5});
  mk('circle',{cx:388,cy:597,r:1.2,fill:RED});tx(392,600,'shRNA-2',{'font-size':7.5});
  vtitle(280,645,'Rel. mRNA level',7.5);
})();

/* ================= N ================= */
(function(){
  mk('line',{x1:24,y1:728,x2:24,y2:795,stroke:'#333','stroke-width':0.7});
  mk('line',{x1:24,y1:795,x2:110,y2:795,stroke:'#333','stroke-width':0.7});
  mk('path',{d:'M22.5 729 l1.5 -3 l1.5 3z',fill:'#333'});mk('path',{d:'M110 793.5 l3 1.5 l-3 1.5z',fill:'#333'});
  tx(114,798,'FSC-A',{'font-size':7.5});vtitle(20,746,'GFP',7.5);
  tx(55,740,'Control',{'text-anchor':'middle','font-size':7.5});
  const t=tx(125,740,'',{'text-anchor':'middle','font-size':7.5});t.innerHTML='<tspan font-style="italic">Kif26b</tspan> KD';
  [[23,'9.33%'],[100,'5.39%']].forEach((p,i)=>{
    mk('path',{d:'M'+(p[0]+4)+' 780 L'+(p[0]+10)+' 760 L'+(p[0]+30)+' 758 L'+(p[0]+50)+' 778 Z',fill:'#aee3e3',opacity:0.7,filter:'url(#bl2)'});
    const g=mk('rect',{x:p[0],y:736,width:57,height:19,fill:'none',stroke:'#9fd49f','stroke-width':0.8});
    tx(p[0]+54,764,p[1],{'text-anchor':'end','font-size':6.5,fill:'#2aa52a'});
    mk('line',{x1:p[0],y1:781,x2:p[0]+57,y2:781,stroke:'#aaa','stroke-width':0.6,'stroke-dasharray':'1 2'});
  });
  const ax=195,y0=803,k=6.5;
  yAxis(ax,y0,k,[0,2,4,6,8,10,12],t=>String(t));
  mk('line',{x1:ax,y1:y0,x2:222,y2:y0,stroke:'#222','stroke-width':0.8});
  bar(208,12,y0,k,nVal[0],nErr[0],BLUE,'n-bar-kd');
  mk('line',{x1:ax,y1:y0-k*nCtrlLevel,x2:230,y2:y0-k*nCtrlLevel,stroke:'#333','stroke-width':0.8,'stroke-dasharray':'2 2'});
  tx(219,739,'Ctrl',{'text-anchor':'middle','font-size':7.5});
  tx(217,758,'p=0.0040',{'font-size':5.8});
  tx(208,813,'KD',{'text-anchor':'middle','font-size':7.5});
  vtitle(173,762,'GFP⁺ cells (%)',7.5);
})();

/* ================= O ================= */
(function(){
  const ax=298,y0=803,k=52.7;
  yAxis(ax,y0,k,[0,0.5,1,1.5],t=>t.toFixed(1));
  mk('line',{x1:ax,y1:y0,x2:452,y2:y0,stroke:'#222','stroke-width':0.8});
  [352,405].forEach(x=>mk('line',{x1:x,y1:y0,x2:x,y2:y0+3,stroke:'#222','stroke-width':0.8}));
  oGroups.forEach((g,gi)=>{const b=311+gi*53.5;
    bar(b,11,y0,k,oENR[gi],oENRErr[gi],BLUE,'o-bar-enr-'+g);
    bar(b+14,11,y0,k,oER[gi],oERErr[gi],RED,'o-bar-er-'+g);
    bar(b+28,11,y0,k,oEN[gi],oENErr[gi],GREEN,'o-bar-en-'+g);
    tx(325+gi*53,815,g,{'text-anchor':'middle','font-size':7.5});
  });
  pline(416,446,730,'p=0.0259');
  [['ENR',BLUE,327],['ER',RED,379],['EN',GREEN,430]].forEach(l=>{mk('circle',{cx:l[2],cy:714,r:1.2,fill:l[1]});tx(l[2]+4,717,l[0],{'font-size':7.5});});
  const t=tx(283,762,'',{'text-anchor':'middle','font-size':7,transform:'rotate(-90 283 762)'});t.innerHTML='<tspan font-style="italic">Ythdf2</tspan> mRNA level';
})();

/* ================= P: schematic ================= */
(function(){
  const g=mk('g',{});
  mk('rect',{x:477,y:600,width:100,height:181,fill:'#cbe7e1'},g);
  mk('rect',{x:577,y:600,width:101,height:181,fill:'#f6d6d6'},g);
  mk('rect',{x:477,y:600,width:201,height:181,fill:'none',stroke:'#777','stroke-width':0.6},g);
  mk('line',{x1:577,y1:600,x2:577,y2:781,stroke:'#777','stroke-width':0.6,'stroke-dasharray':'2 2'},g);
  [[530,610,'#b89488'],[545,630,'#7ec8bd'],[560,640,'#f1a84c'],[577,643,'#86cfc4'],[594,640,'#f1a84c'],[609,630,'#7ec8bd'],[624,610,'#b89488']].forEach((c,i)=>{
    mk('ellipse',{cx:c[0],cy:c[1],rx:9,ry:14,fill:c[2],stroke:'#6a6a6a','stroke-width':0.4,transform:'rotate('+((c[0]-577)*1.2)+' '+c[0]+' '+c[1]+')'},g);});
  mk('rect',{x:566,y:622,width:22,height:38,fill:'none',stroke:'#555','stroke-width':0.6},g);
  tx(483,618,'Wild Type',{'font-size':7.5},g);
  const tk=tx(673,618,'',{'font-size':7.5,'text-anchor':'end'},g);tk.innerHTML='<tspan font-style="italic">Ythdf2</tspan> KO';
  tx(535,654,'ISCs',{'font-size':7.5,'text-anchor':'middle'},g);mk('rect',{x:545,y:649,width:8,height:4,fill:'#4a9c96'},g);
  mk('path',{d:'M606 647 h5 v4 h3 l-5.5 5 l-5.5 -5 h3z',fill:'#b02020'},g);tx(624,654,'ISCs',{'font-size':7.5,'text-anchor':'middle'},g);
  mk('line',{x1:566,y1:660,x2:495,y2:683,stroke:'#777','stroke-width':0.5},g);mk('line',{x1:588,y1:660,x2:662,y2:683,stroke:'#777','stroke-width':0.5},g);
  mk('path',{d:'M494 683 L494 748 Q494 762 510 762 L648 762 Q662 762 662 748 L662 683',fill:'none',stroke:'#77b7ac','stroke-width':5},g);
  mk('path',{d:'M537 683 Q537 730 577 730 Q617 730 617 683 Z',fill:'#a9d6cd',opacity:0.8},g);
  [[520,718],[555,715],[600,715],[635,718]].forEach(p=>mk('path',{d:'M'+(p[0]-12)+' '+p[1]+' q3 -3 6 0 t6 0 t6 0 t6 0',stroke:'#3a7acb','stroke-width':0.8,fill:'none'},g));
  mk('ellipse',{cx:528,cy:742,rx:9,ry:6,fill:'#5a6ed0'},g);mk('ellipse',{cx:626,cy:742,rx:9,ry:6,fill:'#a8b3e8'},g);
  [553,601].forEach(x=>{mk('rect',{x:x,y:745,width:3,height:20,fill:'#a04060'},g);for(let i=0;i<5;i++)mk('rect',{x:x+(x<577?6:-18)+i*3,y:747,width:1.5,height:15,fill:'#4a55c0'},g);});
  mk('rect',{x:477,y:787,width:201,height:18,fill:'#fff',stroke:'#999','stroke-width':0.6},g);
  mk('path',{d:'M486 802 l2 -12 h3 l2 12z',fill:'#7ec8bd'},g);tx(495,799,'Stem cell',{'font-size':5.8},g);
  mk('ellipse',{cx:527,cy:796,rx:4,ry:6,fill:'#f1a84c'},g);tx(533,799,'Paneth cell',{'font-size':5.8},g);
  mk('path',{d:'M563 802 l1 -12 h5 l1 12z',fill:'#b89488'},g);tx(572,799,'TA cell',{'font-size':5.8},g);
  mk('circle',{cx:611,cy:792,r:3,fill:'#3aa0c8'},g);mk('line',{x1:611,y1:795,x2:611,y2:803,stroke:'#3aa0c8','stroke-width':0.8},g);tx(615,799,'m⁶A modification',{'font-size':5.8},g);
})();
</script>
</body></html>
